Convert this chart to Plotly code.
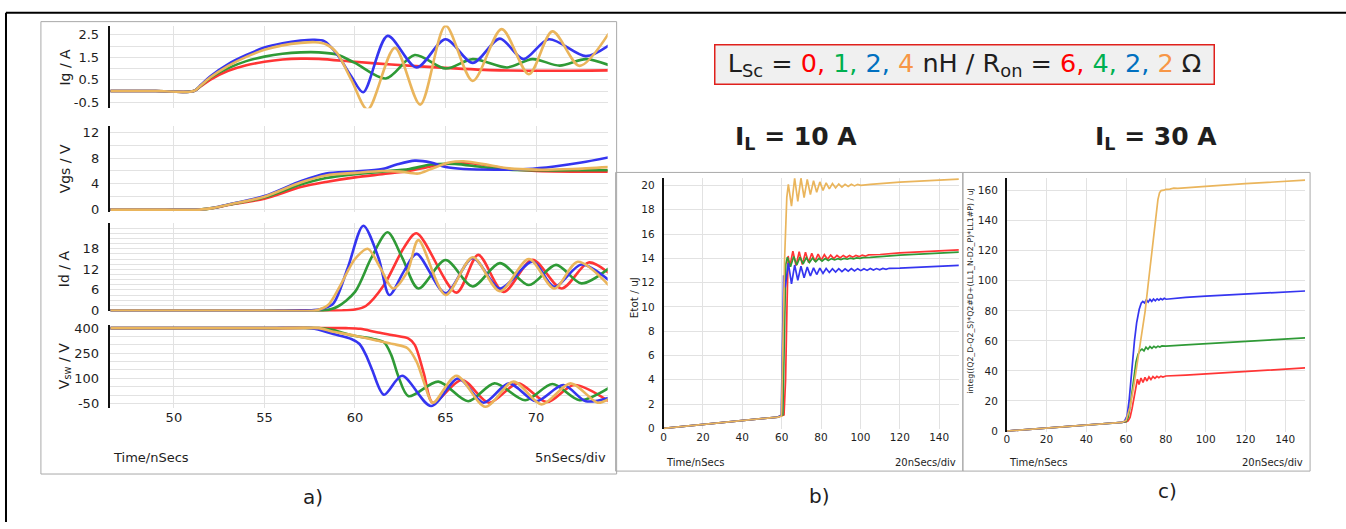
import plotly.graph_objects as go

W, H = 1346, 529


def fx(px):
    return px / W


def fy(py):
    return 1 - py / H


RED = "#FF3535"
GREEN = "#2F9A36"
BLUE = "#3535F0"
GOLD = "#EAB55C"
GRID = "#E2E2E2"
FRAME = "#A9A9A9"
FONT = "DejaVu Sans"
TXT = "#1E1E1E"

# ---------------- (a) switching waveforms, time in ns ----------------
time_ticks_a = [50, 55, 60, 65, 70]

# gate current Ig / A
ig_t_red = [46.5, 49, 51.1, 51.5, 52, 53, 54, 55, 56, 57, 58, 60, 62, 65, 68, 71, 74]
ig_red = [0, 0, 0, 0.22, 0.5, 0.9, 1.15, 1.3, 1.4, 1.44, 1.43, 1.3, 1.18, 1.03, 0.92, 0.9, 0.92]
ig_t_green = [46.5, 49, 51.1, 51.5, 52, 53, 54, 55, 56, 57, 58, 59, 60, 61.7, 63.3, 65, 66.5, 68.4, 69.8, 71.3, 72.75, 74]
ig_green = [0, 0, 0, 0.25, 0.58, 1.02, 1.33, 1.53, 1.66, 1.72, 1.72, 1.62, 1.25, 0.56, 1.6, 1.0, 1.42, 1.05, 1.42, 1.13, 1.42, 1.16]
ig_t_blue = [46.5, 49, 51.1, 51.5, 52, 53, 54, 55, 56, 57, 57.7, 58.3, 59, 59.8, 60.46, 61.8, 63.4, 65, 66.5, 68, 69.3, 70.7, 72.75, 74]
ig_blue = [0, 0, 0, 0.28, 0.65, 1.2, 1.6, 1.93, 2.12, 2.24, 2.28, 2.22, 1.65, 0.65, -0.05, 2.45, 1.05, 2.3, 1.25, 2.33, 1.42, 2.3, 1.55, 2.02]
ig_t_gold = [46.5, 49, 51.1, 51.5, 52, 53, 54, 55, 56, 57, 57.8, 58.4, 59, 59.8, 60.7, 62.2, 63.6, 65, 66.5, 68.1, 69.6, 70.9, 72.4, 74]
ig_gold = [0, 0, 0, 0.26, 0.6, 1.12, 1.52, 1.83, 2.03, 2.14, 2.17, 2.08, 1.7, 0.5, -0.82, 1.92, -0.6, 2.9, 0.45, 2.75, 0.75, 2.65, 1.12, 2.55]
ig_ticks = [-0.5, 0.5, 1.5, 2.5]
ig_ticktext = ["-0.5", "0.5", "1.5", "2.5"]

# gate-source voltage Vgs / V
vgs_t_red = [46.5, 49.5, 51.4, 52.2, 53, 55, 57, 58.4, 60, 61.5, 63, 64.2, 65.7, 67, 68.5, 70, 72, 74]
vgs_red = [0, 0, 0, 0.25, 0.7, 1.7, 3.5, 4.3, 5.0, 5.5, 6.0, 6.7, 7.3, 7.0, 6.3, 6.0, 5.9, 5.9]
vgs_t_green = [46.5, 49.5, 51.4, 52.2, 53, 55, 57, 58.4, 60, 61.5, 63, 64.2, 65.5, 67, 68.5, 70, 72, 74]
vgs_green = [0, 0, 0, 0.27, 0.75, 1.9, 3.9, 4.9, 5.5, 5.9, 6.3, 7.0, 7.1, 6.6, 6.2, 6.1, 6.1, 6.1]
vgs_t_blue = [46.5, 49.5, 51.4, 52.2, 53, 55, 57, 58.4, 60, 61.5, 62.3, 63.3, 64.2, 65, 66, 68, 69.5, 71, 72.5, 74]
vgs_blue = [0, 0, 0, 0.3, 0.8, 2.1, 4.4, 5.6, 5.9, 6.3, 7.0, 7.6, 7.3, 6.6, 6.3, 6.2, 6.3, 6.7, 7.3, 8.1]
vgs_t_gold = [46.5, 49.5, 51.4, 52.2, 53, 55, 57, 58.4, 60, 61.5, 62.5, 63.5, 64.2, 65.2, 66, 67, 68.5, 70, 72, 74]
vgs_gold = [0, 0, 0, 0.27, 0.75, 2.0, 4.2, 5.3, 5.7, 6.0, 5.9, 5.6, 6.3, 7.3, 7.5, 7.1, 6.4, 6.2, 6.3, 6.6]
vgs_ticks = [0, 4, 8, 12]

# drain current Id / A
id_t_red = [46.5, 55, 59.3, 60.0, 60.6, 61.6, 62.7, 63.4, 65.6, 66.8, 68.2, 69.8, 71.4, 72.9, 74]
id_red = [0, 0, 0, 0.3, 1.3, 7.4, 18.3, 22.5, 5.2, 16.2, 5.4, 14.8, 6.4, 14.0, 11.0]
id_t_green = [46.5, 55, 58.3, 59.0, 60.0, 60.9, 61.8, 62.6, 63.5, 65.0, 66.5, 68.0, 69.6, 71.1, 72.5, 74]
id_green = [0, 0, 0, 1.0, 5.4, 15.3, 22.8, 15.5, 6.4, 14.7, 7.0, 13.8, 7.4, 13.3, 7.9, 12.2]
id_t_blue = [46.5, 55, 57.5, 58.2, 58.8, 59.6, 60.46, 61.3, 61.9, 62.7, 63.4, 65.0, 66.5, 68.0, 69.8, 71.0, 72.5, 74]
id_blue = [0, 0, 0, 0.5, 2.0, 12.4, 24.7, 15.3, 4.5, 11.4, 16.5, 5.0, 15.3, 6.4, 14.2, 6.9, 13.4, 8.9]
id_t_gold = [46.5, 55, 57.8, 58.5, 59.2, 60.0, 60.7, 61.4, 62.1, 62.9, 63.5, 65.0, 66.5, 68.0, 69.6, 71.0, 72.3, 74]
id_gold = [0, 0, 0, 1.5, 7.4, 15.0, 18.0, 12.4, 6.4, 11.4, 20.5, 4.5, 15.5, 5.6, 15.0, 6.4, 14.2, 7.4]
id_ticks = [0, 6, 12, 18]

# switch-node voltage Vsw / V
vsw_t_red = [46.5, 56, 59.5, 60.3, 61.2, 62.1, 62.96, 63.3, 63.8, 64.3, 65.9, 67.4, 69.0, 70.6, 72.1, 74]
vsw_red = [400, 400, 400, 396, 375, 357, 337, 300, 130, -46, 90, -46, 70, -42, 60, -37]
vsw_t_green = [46.5, 55, 58, 58.8, 59.8, 61.0, 61.6, 62.0, 62.4, 62.96, 64.6, 66.25, 67.7, 69.4, 70.9, 72.4, 74]
vsw_green = [400, 400, 400, 388, 358, 335, 315, 240, 110, -7, 80, -37, 70, -31, 66, -31, 41]
vsw_t_blue = [46.5, 55, 57.6, 58.8, 59.8, 60.25, 60.6, 60.95, 61.6, 62.6, 64.2, 65.7, 67.1, 68.5, 70.0, 71.5, 72.75, 74]
vsw_blue = [400, 400, 400, 365, 335, 305, 240, 150, 2, 115, -66, 99, -46, 70, -37, 60, -37, -17]
vsw_t_gold = [46.5, 55, 58, 58.8, 60.0, 61.0, 62.1, 62.9, 63.4, 63.8, 64.3, 65.6, 67.2, 68.75, 70.3, 71.9, 73.4, 74]
vsw_gold = [400, 400, 400, 378, 355, 330, 305, 280, 200, 80, -46, 115, -70, 80, -56, 70, -46, -25]
vsw_ticks = [-50, 100, 250, 400]
vsw_ticktext = ["-50", "100", "250", "400"]

# ---------------- (b) total switching energy, IL = 10 A ----------------
time_ticks_bc = [0, 20, 40, 60, 80, 100, 120, 140]
etot_ticks = [0, 2, 4, 6, 8, 10, 12, 14, 16, 18, 20]

eb_t_red = [0, 20, 40, 58, 61.2, 62.0, 62.7, 63.3, 64.1, 65.7, 67.3, 68.9, 70.5, 72.1, 73.7, 75.3, 76.9,
            78.5, 80.1, 81.7, 83.3, 84.9, 86.5, 88.1, 89.7, 91.3, 92.9, 94.5, 96.1, 97.7, 99.3, 100.9,
            102.5, 104.1, 110, 120, 135, 150]
eb_red = [0, 0.31, 0.62, 0.92, 1.1, 4, 10, 14.2, 13.3, 14.6, 13.4, 14.55, 13.5, 14.5, 13.65, 14.42, 13.75,
          14.35, 13.85, 14.3, 13.92, 14.27, 13.98, 14.25, 14.03, 14.24, 14.07, 14.24, 14.1, 14.24, 14.14, 14.26,
          14.18, 14.28, 14.32, 14.45, 14.58, 14.7]
eb_t_green = [0, 20, 40, 58, 60.6, 61.4, 62.1, 62.9, 64.5, 66.1, 67.7, 69.3, 70.9, 72.5, 74.1, 75.7, 77.3,
              78.9, 80.5, 82.1, 83.7, 85.3, 86.9, 88.5, 90.1, 91.7, 93.3, 94.9, 96.5, 98.1, 99.7, 101.3,
              105, 120, 135, 150]
eb_green = [0, 0.31, 0.62, 0.92, 1.1, 7.0, 13.5, 14.1, 13.3, 14.15, 13.45, 14.1, 13.55, 14.05, 13.65, 14.02, 13.72,
            14.0, 13.78, 13.98, 13.83, 13.98, 13.87, 13.98, 13.9, 14.0, 13.93, 14.02, 13.96, 14.04, 14.0, 14.06,
            14.08, 14.27, 14.4, 14.52]
eb_t_blue = [0, 20, 40, 58, 59.8, 60.4, 61.0, 61.8, 63.4, 65.0, 66.6, 68.2, 69.8, 71.4, 73.0, 74.6, 76.2,
             77.8, 79.4, 81.0, 82.6, 84.2, 85.8, 87.4, 89.0, 90.6, 92.2, 93.8, 95.4, 97.0, 98.6, 100.2,
             101.8, 103.4, 105.0, 106.6, 108.2, 109.8, 111.4, 113.0, 114.6, 120, 135, 150]
eb_blue = [0, 0.31, 0.62, 0.92, 1.1, 6.0, 12.6, 11.6, 13.6, 11.9, 13.45, 12.2, 13.35, 12.41, 13.28, 12.55, 13.22,
           12.67, 13.2, 12.76, 13.16, 12.84, 13.15, 12.87, 13.15, 12.91, 13.14, 12.94, 13.15, 12.96, 13.15, 12.99,
           13.15, 13.01, 13.16, 13.04, 13.16, 13.06, 13.17, 13.09, 13.18, 13.2, 13.32, 13.42]
eb_t_gold = [0, 20, 40, 58, 59.9, 60.6, 61.5, 62.6, 63.4, 65.0, 66.6, 68.2, 69.8, 71.4, 73.0, 74.6, 76.2,
             77.8, 79.4, 81.0, 82.6, 84.2, 85.8, 87.4, 89.0, 90.6, 92.2, 93.8, 95.4, 97.0, 98.6, 100.2,
             105, 120, 135, 150]
eb_gold = [0, 0.31, 0.62, 0.92, 1.0, 6, 14, 19.0, 20.1, 18.3, 20.6, 18.7, 20.6, 19.0, 20.5, 19.25, 20.4,
           19.45, 20.3, 19.6, 20.22, 19.72, 20.17, 19.8, 20.12, 19.87, 20.1, 19.92, 20.1, 19.97, 20.1, 20.02,
           20.1, 20.28, 20.4, 20.52]

# ---------------- (c) switching energy integral, IL = 30 A ----------------
integ_ticks = [0, 20, 40, 60, 80, 100, 120, 140, 160]

ec_t_red = [0, 20, 40, 58, 60, 61, 62, 63, 64, 65, 65.7, 66.5, 67.5, 68.5, 69.5, 70.5, 71.5, 72.5, 73.5,
            74.5, 75.5, 76.5, 77.5, 78.5, 80, 90, 100, 120, 135, 150]
ec_red = [0, 1.9, 3.9, 5.7, 6, 6.8, 9, 15, 23, 31, 34.5, 31, 35.3, 32.3, 35.7, 33.3, 36, 34.2, 36.2,
          35, 36.4, 35.5, 36.5, 35.9, 36.6, 37.2, 38, 39.8, 40.8, 42]
ec_t_green = [0, 20, 40, 58, 60, 61, 62, 63, 64, 65, 66, 67, 68, 69, 70, 71, 72, 73, 74, 75, 76, 77, 78,
              80, 90, 100, 120, 135, 150]
ec_green = [0, 1.9, 3.9, 5.7, 6.3, 9, 16, 26, 37, 46, 51, 53.5, 54.5, 53.3, 55.8, 54.4, 56.2, 55, 56.4, 55.5,
            56.5, 55.9, 56.6, 56.5, 57.3, 58, 59.8, 60.8, 62]
ec_t_blue = [0, 20, 40, 58, 59.2, 60.5, 61.5, 62.4, 63.3, 64.2, 65.3, 66.6, 67.6, 68.4, 69.3, 70.2, 71.1,
             72.0, 72.9, 73.8, 74.7, 75.6, 76.5, 77.4, 78.3, 79.2, 80.1, 85, 90, 100, 120, 135, 150]
ec_blue = [0, 1.9, 3.9, 5.7, 6.5, 10, 20, 34, 48, 60, 72, 81, 85, 86.2, 85.2, 87.3, 85.8, 87.6, 86.3, 87.8,
           86.7, 88.0, 87.1, 88.1, 87.4, 88.3, 87.7, 88.4, 88.9, 89.8, 91.3, 92.2, 93.2]
ec_t_gold = [0, 20, 40, 58, 60, 62, 64, 66, 68, 69.6, 71.3, 73, 74.6, 76.0, 76.8, 77.6, 79, 80, 82, 84, 86,
             90, 100, 120, 135, 150]
ec_gold = [0, 1.9, 3.9, 5.7, 7, 16, 31, 49, 66, 80, 100, 120, 140, 154, 158.5, 160, 160.3, 160.8, 161,
           161.6, 161.5, 162, 162.8, 164.6, 165.8, 167]

fig = go.Figure()


def add_line(t, v, xa, ya, color, width, shape, smoothing=0.8):
    fig.add_trace(go.Scatter(
        x=t, y=v, xaxis=xa, yaxis=ya, mode="lines",
        line=dict(color=color, width=width, shape=shape, smoothing=smoothing),
        hoverinfo="skip", showlegend=False))


panel_a = [
    ("x", "y", [(ig_t_red, ig_red, RED), (ig_t_green, ig_green, GREEN),
                (ig_t_blue, ig_blue, BLUE), (ig_t_gold, ig_gold, GOLD)]),
    ("x2", "y2", [(vgs_t_red, vgs_red, RED), (vgs_t_green, vgs_green, GREEN),
                  (vgs_t_blue, vgs_blue, BLUE), (vgs_t_gold, vgs_gold, GOLD)]),
    ("x3", "y3", [(id_t_red, id_red, RED), (id_t_green, id_green, GREEN),
                  (id_t_blue, id_blue, BLUE), (id_t_gold, id_gold, GOLD)]),
    ("x4", "y4", [(vsw_t_red, vsw_red, RED), (vsw_t_green, vsw_green, GREEN),
                  (vsw_t_blue, vsw_blue, BLUE), (vsw_t_gold, vsw_gold, GOLD)]),
]
for xa, ya, series in panel_a:
    for t, v, c in series:
        add_line(t, v, xa, ya, c, 2.6, "spline", 0.85)

for t, v, c in [(eb_t_red, eb_red, RED), (eb_t_green, eb_green, GREEN),
                (eb_t_blue, eb_blue, BLUE), (eb_t_gold, eb_gold, GOLD)]:
    add_line(t, v, "x5", "y5", c, 1.7, "linear")

for t, v, c in [(ec_t_red, ec_red, RED), (ec_t_green, ec_green, GREEN),
                (ec_t_blue, ec_blue, BLUE), (ec_t_gold, ec_gold, GOLD)]:
    add_line(t, v, "x6", "y6", c, 1.7, "linear")

# ---- axes ----
tick_a = dict(family=FONT, size=13, color=TXT)
tick_bc = dict(family=FONT, size=10.5, color=TXT)


def x_axis_a(anchor, labels):
    return dict(domain=[fx(107), fx(606)], range=[46.46, 73.95], anchor=anchor,
                tickvals=time_ticks_a, showticklabels=labels, tickfont=tick_a,
                showgrid=True, gridcolor=GRID, gridwidth=1, zeroline=False,
                showline=False, ticks="")


def y_axis(anchor, top, bottom, rng, tickvals, ticktext, minor, font, standoff, lw):
    ax = dict(domain=[fy(bottom), fy(top)], range=rng, anchor=anchor,
              tickvals=tickvals, tickfont=font, showgrid=True, gridcolor=GRID,
              zeroline=False, showline=True, linecolor="#111111", linewidth=lw,
              ticks="", ticklabelstandoff=standoff)
    if ticktext is not None:
        ax["ticktext"] = ticktext
    if minor is not None:
        ax["minor"] = dict(tick0=minor[0], dtick=minor[1], showgrid=True,
                           gridcolor=GRID, ticks="")
    return ax


def x_axis_bc(anchor, left, right):
    return dict(domain=[fx(left), fx(right)], range=[0, 150], anchor=anchor,
                tickvals=time_ticks_bc, tickfont=tick_bc, showgrid=True,
                gridcolor=GRID, zeroline=False, showline=False, ticks="")


layout_axes = dict(
    xaxis=x_axis_a("y", False),
    xaxis2=x_axis_a("y2", False),
    xaxis3=x_axis_a("y3", False),
    xaxis4=x_axis_a("y4", True),
    yaxis=y_axis("x", 22, 106.4, [-0.76, 2.91], ig_ticks, ig_ticktext, (0, 0.5), tick_a, 6, 2),
    yaxis2=y_axis("x2", 124.2, 212.4, [-0.37, 13.04], vgs_ticks, None, (0, 2), tick_a, 6, 2),
    yaxis3=y_axis("x3", 224, 314, [-0.3, 25.4], id_ticks, None, (0, 1.5), tick_a, 6, 2),
    yaxis4=y_axis("x4", 327.6, 413, [-80, 420], vsw_ticks, vsw_ticktext, (0, 50), tick_a, 6, 2),
    xaxis5=x_axis_bc("y5", 662, 958),
    yaxis5=y_axis("x5", 177.7, 434.3, [-0.08, 20.62], etot_ticks, None, None, tick_bc, 5, 1.5),
    xaxis6=x_axis_bc("y6", 1006, 1305),
    yaxis6=y_axis("x6", 177.7, 437, [-0.6, 168.4], integ_ticks, None, None, tick_bc, 5, 1.5),
)


def note(text, x, y, size, xanchor="center", angle=0, bold=False, color=TXT):
    return dict(text=f"<b>{text}</b>" if bold else text, x=fx(x), y=fy(y),
                xref="paper", yref="paper", xanchor=xanchor, yanchor="middle",
                showarrow=False, textangle=angle,
                font=dict(family=FONT, size=size, color=color))


legend_text = (
    "L<sub>Sc</sub> = "
    "<span style='color:#FF0000'>0,</span> "
    "<span style='color:#00B050'>1,</span> "
    "<span style='color:#0070C0'>2,</span> "
    "<span style='color:#F79646'>4</span> nH / R<sub>on</sub> = "
    "<span style='color:#FF0000'>6,</span> "
    "<span style='color:#00B050'>4,</span> "
    "<span style='color:#0070C0'>2,</span> "
    "<span style='color:#F79646'>2</span> Ω"
)

annotations = [
    note("Ig / A", 62, 64, 14, angle=-90),
    note("Vgs / V", 62, 168, 14, angle=-90),
    note("Id / A", 62, 270, 14, angle=-90),
    note("V<sub>sw</sub> / V", 62, 370, 14, angle=-90),
    note("Time/nSecs", 108, 463, 13, xanchor="left"),
    note("5nSecs/div", 606, 463, 13, xanchor="right"),
    note("Etot / uJ", 632, 300, 10.5, angle=-90),
    note("Time/nSecs", 662, 468, 10, xanchor="left"),
    note("20nSecs/div", 957, 468, 10, xanchor="right"),
    note("integ((Q2_D-Q2_S)*Q2#D+(LL1_N-D2_P)*LL1#P) / uJ", 970, 293, 7.8, angle=-90),
    note("Time/nSecs", 1006, 468, 10, xanchor="left"),
    note("20nSecs/div", 1305, 468, 10, xanchor="right"),
    note("I<sub>L</sub> = 10 A", 795, 137, 25, bold=True),
    note("I<sub>L</sub> = 30 A", 1156, 137, 25, bold=True),
    note("a)", 311, 503, 20),
    note("b)", 818, 502, 20),
    note("c)", 1167, 497, 20),
    dict(text=legend_text, x=fx(964), y=fy(62), xref="paper", yref="paper",
         xanchor="center", yanchor="middle", showarrow=False,
         font=dict(family=FONT, size=25.5, color=TXT),
         bgcolor="#F0F0F0", bordercolor="#E0201C", borderwidth=1.5, borderpad=0,
         width=498, height=38, align="center"),
]


def rect(x0, y0, x1, y1, color, width):
    return dict(type="rect", xref="paper", yref="paper",
                x0=fx(x0), y0=fy(y1), x1=fx(x1), y1=fy(y0),
                line=dict(color=color, width=width), layer="below")


def seg(x0, y0, x1, y1, color, width):
    return dict(type="line", xref="paper", yref="paper",
                x0=fx(x0), y0=fy(y0), x1=fx(x1), y1=fy(y1),
                line=dict(color=color, width=width))


shapes = [
    seg(3, 9, 1346, 9, "#000000", 2),
    seg(3, 9, 3, 529, "#000000", 2),
    rect(38, 18, 615, 480, FRAME, 1),
    rect(614, 172, 962, 477, FRAME, 1),
    rect(962, 172, 1310, 477, FRAME, 1),
]

fig.update_layout(
    width=W, height=H,
    margin=dict(l=0, r=0, t=0, b=0),
    paper_bgcolor="white", plot_bgcolor="white",
    showlegend=False, hovermode=False,
    font=dict(family=FONT, color=TXT),
    annotations=annotations, shapes=shapes,
    **layout_axes,
)

fig.write_html("out.html")
